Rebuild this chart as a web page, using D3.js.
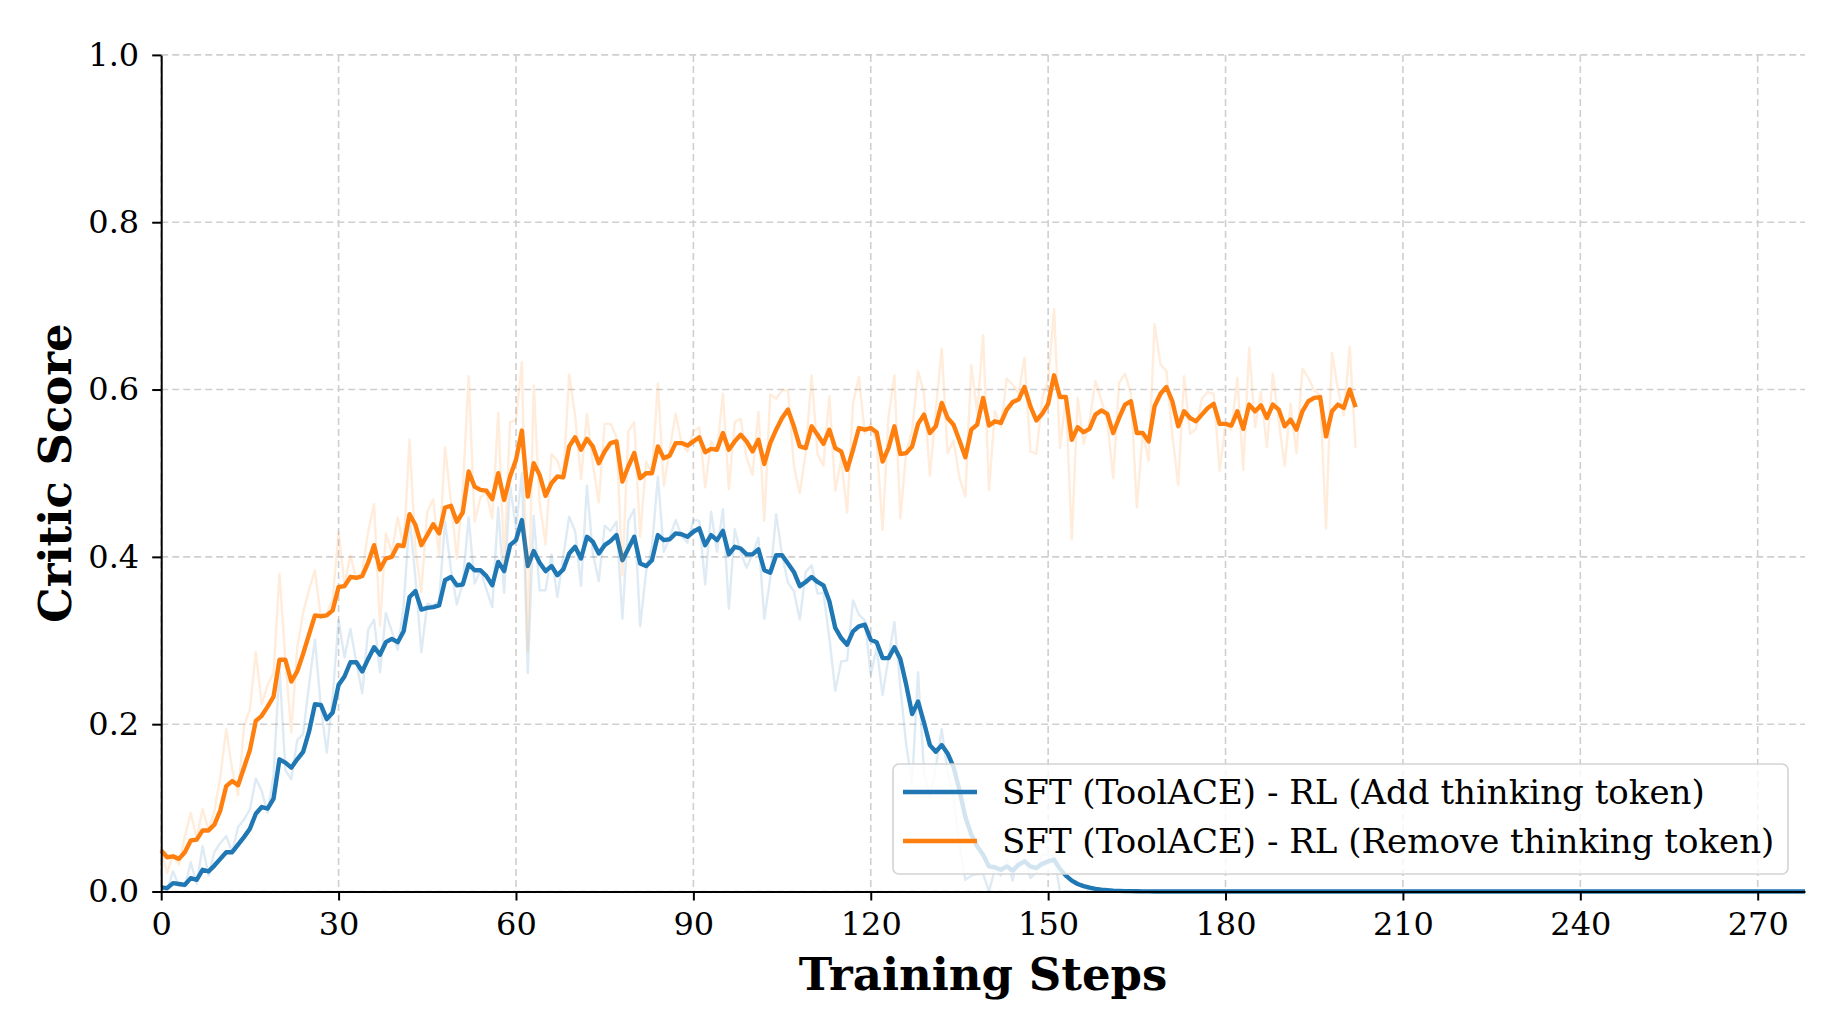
<!DOCTYPE html>
<html><head><meta charset="utf-8">
<script src="https://cdn.jsdelivr.net/npm/d3@7"></script>
<style>body{margin:0;background:#fff;} svg{display:block;}</style>
</head><body>
<svg id="chart" width="1832" height="1024"></svg>
<script>
// ---------- data ----------
const stepsMax = 278;
const xTickValues = [0, 30, 60, 90, 120, 150, 180, 210, 240, 270];
const yTickValues = [0.0, 0.2, 0.4, 0.6, 0.8, 1.0];
const seriesNames = ["SFT (ToolACE) - RL (Add thinking token)", "SFT (ToolACE) - RL (Remove thinking token)"];
const xLabel = "Training Steps";
const yLabel = "Critic Score";

// Add thinking token: raw per-step score
const addRaw = [
0.005,0.002,0.024,0.007,0.006,0.035,0.009,0.054,0.019,0.047,
0.058,0.066,0.047,0.077,0.086,0.098,0.135,0.120,0.094,0.139,
0.268,0.145,0.134,0.181,0.188,0.247,0.301,0.221,0.166,0.233,
0.324,0.280,0.314,0.274,0.237,0.313,0.325,0.262,0.333,0.311,
0.289,0.341,0.448,0.375,0.286,0.344,0.342,0.347,0.442,0.385,
0.343,0.369,0.447,0.368,0.384,0.361,0.340,0.459,0.357,0.486,
0.434,0.500,0.261,0.449,0.360,0.360,0.403,0.352,0.401,0.448,
0.431,0.365,0.485,0.404,0.371,0.437,0.431,0.442,0.326,0.443,
0.457,0.317,0.382,0.412,0.496,0.406,0.423,0.444,0.425,0.417,
0.444,0.443,0.367,0.454,0.406,0.457,0.338,0.433,0.405,0.387,
0.403,0.423,0.326,0.374,0.451,0.402,0.369,0.359,0.325,0.382,
0.390,0.356,0.357,0.303,0.240,0.275,0.276,0.348,0.331,0.324,
0.259,0.291,0.235,0.279,0.322,0.245,0.175,0.130,0.262,0.144,
0.112,0.148,0.194,0.142,0.112,0.056,0.014,0.019,0.021,0.021,
0.000,0.027,0.019,0.039,0.013,0.048,0.045,0.016,0.023,0.045,
0.043,0.043,
0,0,0,0,0,0,0,0,0,0,
0,0,0,0,0,0,0,0,0,0,
0,0,0,0,0,0,0,0,0,0,
0,0,0,0,0,0,0,0,0,0,
0,0,0,0,0,0,0,0,0,0,
0,0,0,0,0,0,0,0,0,0,
0,0,0,0,0,0,0,0,0,0,
0,0,0,0,0,0,0,0,0,0,
0,0,0,0,0,0,0,0,0,0,
0,0,0,0,0,0,0,0,0,0,
0,0,0,0,0,0,0,0,0,0,
0,0,0,0,0,0,0,0,0,0,
0,0,0,0,0,0,0
];
// Add thinking token: smoothed curve
const addSmooth = [
0.005,0.004,0.010,0.009,0.008,0.016,0.014,0.026,0.024,0.031,
0.039,0.047,0.047,0.056,0.065,0.075,0.093,0.101,0.099,0.111,
0.158,0.154,0.148,0.158,0.167,0.191,0.224,0.223,0.206,0.214,
0.247,0.257,0.274,0.274,0.263,0.278,0.292,0.283,0.298,0.302,
0.298,0.311,0.352,0.359,0.337,0.339,0.340,0.342,0.372,0.376,
0.366,0.367,0.391,0.384,0.384,0.377,0.366,0.394,0.383,0.414,
0.420,0.444,0.389,0.407,0.393,0.383,0.389,0.378,0.385,0.404,
0.412,0.398,0.424,0.418,0.404,0.414,0.419,0.426,0.396,0.410,
0.424,0.392,0.389,0.396,0.426,0.420,0.421,0.428,0.427,0.424,
0.430,0.434,0.414,0.426,0.420,0.431,0.403,0.412,0.410,0.403,
0.403,0.409,0.384,0.381,0.402,0.402,0.392,0.382,0.365,0.370,
0.376,0.370,0.366,0.347,0.315,0.303,0.295,0.311,0.317,0.319,
0.301,0.298,0.279,0.279,0.292,0.278,0.247,0.212,0.227,0.202,
0.175,0.167,0.175,0.165,0.149,0.121,0.089,0.068,0.054,0.044,
0.030,0.029,0.026,0.030,0.025,0.032,0.036,0.030,0.028,0.033,
0.036,0.038,0.027,0.019,0.013,0.009,0.0065,0.0046,0.0032,0.0022,
0.0016,0.0011,0.0008,0.0005,0.0004,0.0003,0.0002,0.0001,
0,0,0,0,0,0,0,0,0,0,
0,0,0,0,0,0,0,0,0,0,
0,0,0,0,0,0,0,0,0,0,
0,0,0,0,0,0,0,0,0,0,
0,0,0,0,0,0,0,0,0,0,
0,0,0,0,0,0,0,0,0,0,
0,0,0,0,0,0,0,0,0,0,
0,0,0,0,0,0,0,0,0,0,
0,0,0,0,0,0,0,0,0,0,
0,0,0,0,0,0,0,0,0,0,
0,0,0,0,0,0,0,0,0,0,
0
];
// Remove thinking token: raw per-step score
const removeRaw = [
0.049,0.022,0.044,0.032,0.066,0.094,0.064,0.099,0.073,0.096,
0.137,0.194,0.146,0.115,0.197,0.218,0.286,0.224,0.247,0.261,
0.380,0.277,0.190,0.291,0.333,0.361,0.384,0.327,0.332,0.350,
0.429,0.367,0.402,0.373,0.382,0.430,0.463,0.317,0.428,0.405,
0.447,0.411,0.540,0.408,0.358,0.454,0.469,0.402,0.531,0.466,
0.398,0.479,0.616,0.442,0.471,0.477,0.446,0.572,0.393,0.561,
0.563,0.633,0.288,0.605,0.465,0.415,0.523,0.515,0.493,0.618,
0.569,0.493,0.571,0.511,0.465,0.559,0.559,0.543,0.378,0.550,
0.561,0.424,0.514,0.500,0.607,0.485,0.528,0.571,0.536,0.526,
0.550,0.555,0.483,0.538,0.526,0.595,0.481,0.561,0.565,0.519,
0.498,0.573,0.443,0.594,0.589,0.599,0.599,0.509,0.476,0.525,
0.617,0.523,0.509,0.592,0.479,0.517,0.453,0.584,0.615,0.547,
0.559,0.537,0.432,0.567,0.617,0.446,0.526,0.551,0.622,0.596,
0.497,0.575,0.649,0.524,0.539,0.495,0.472,0.629,0.572,0.665,
0.480,0.574,0.555,0.613,0.606,0.595,0.638,0.526,0.523,0.590,
0.611,0.696,0.530,0.591,0.421,0.590,0.535,0.562,0.610,0.587,
0.562,0.494,0.608,0.619,0.595,0.459,0.548,0.515,0.678,0.630,
0.622,0.546,0.486,0.616,0.547,0.553,0.589,0.597,0.595,0.503,
0.559,0.552,0.614,0.504,0.650,0.555,0.597,0.531,0.619,0.562,
0.509,0.583,0.524,0.625,0.614,0.599,0.593,0.434,0.644,0.601,
0.569,0.651,0.530
];
// Remove thinking token: smoothed curve
const removeSmooth = [
0.049,0.041,0.042,0.039,0.047,0.061,0.062,0.073,0.073,0.080,
0.097,0.126,0.132,0.127,0.148,0.169,0.204,0.210,0.221,0.233,
0.277,0.277,0.251,0.263,0.284,0.307,0.330,0.329,0.330,0.336,
0.364,0.365,0.376,0.375,0.377,0.393,0.414,0.385,0.398,0.400,
0.414,0.413,0.451,0.438,0.414,0.426,0.439,0.428,0.459,0.461,
0.442,0.453,0.502,0.484,0.480,0.479,0.469,0.500,0.468,0.496,
0.516,0.551,0.472,0.512,0.498,0.473,0.488,0.496,0.495,0.532,
0.543,0.528,0.541,0.532,0.512,0.526,0.536,0.538,0.490,0.508,
0.524,0.494,0.500,0.500,0.532,0.518,0.521,0.536,0.536,0.533,
0.538,0.543,0.525,0.529,0.528,0.548,0.528,0.538,0.546,0.538,
0.526,0.540,0.511,0.536,0.552,0.566,0.576,0.556,0.532,0.530,
0.556,0.546,0.535,0.552,0.530,0.526,0.504,0.528,0.554,0.552,
0.554,0.549,0.514,0.530,0.556,0.523,0.524,0.532,0.559,0.570,
0.548,0.556,0.584,0.566,0.558,0.539,0.519,0.552,0.558,0.590,
0.557,0.562,0.560,0.576,0.585,0.588,0.603,0.580,0.563,0.571,
0.583,0.617,0.591,0.591,0.540,0.555,0.549,0.553,0.570,0.575,
0.571,0.548,0.566,0.582,0.586,0.548,0.548,0.538,0.580,0.595,
0.603,0.586,0.556,0.574,0.566,0.562,0.570,0.578,0.583,0.559,
0.559,0.557,0.574,0.553,0.582,0.574,0.581,0.566,0.582,0.576,
0.556,0.564,0.552,0.574,0.586,0.590,0.591,0.544,0.574,0.582,
0.578,0.600,0.579
];
const colors = ["#1f77b4", "#ff7f0e"];

// ---------- drawing ----------
const svg = d3.select("#chart");
const plot = {left: 161.2, right: 1805, top: 54.9, bottom: 891.5};
const x = d3.scaleLinear().domain([0, stepsMax]).range([plot.left, plot.right]);
const y = d3.scaleLinear().domain([0, 1]).range([plot.bottom, plot.top]);
const FONT = "'DejaVu Serif', serif";

svg.append("rect").attr("width", 1832).attr("height", 1024).attr("fill", "#fff");

// grid
const grid = svg.append("g");
grid.selectAll("line.gx").data(xTickValues).join("line")
  .attr("x1", d => x(d)).attr("x2", d => x(d))
  .attr("y1", plot.top).attr("y2", plot.bottom)
  .attr("stroke", "#cfcfcf").attr("stroke-width", 1.6).attr("stroke-dasharray", "7,4");
grid.selectAll("line.gy").data(yTickValues).join("line")
  .attr("y1", d => y(d)).attr("y2", d => y(d))
  .attr("x1", plot.left).attr("x2", plot.right)
  .attr("stroke", "#cfcfcf").attr("stroke-width", 1.6).attr("stroke-dasharray", "7,4");

// lines
const line = d3.line().x((d, i) => x(i)).y(d => y(d));
const series = [
  {raw: addRaw, smooth: addSmooth, color: colors[0]},
  {raw: removeRaw, smooth: removeSmooth, color: colors[1]}
];
const lines = svg.append("g");
series.forEach(s => {
  lines.append("path").datum(s.raw).attr("d", line)
    .attr("fill", "none").attr("stroke", s.color).attr("stroke-opacity", 0.15)
    .attr("stroke-width", 2.4).attr("stroke-linejoin", "round");
  lines.append("path").datum(s.smooth).attr("d", line)
    .attr("fill", "none").attr("stroke", s.color)
    .attr("stroke-width", 4.4).attr("stroke-linejoin", "round").attr("stroke-linecap", "butt");
});

// axes
const xAxis = d3.axisBottom(x).tickValues(xTickValues).tickFormat(d3.format("d"))
  .tickSizeInner(9).tickSizeOuter(0).tickPadding(12);
const yAxis = d3.axisLeft(y).tickValues(yTickValues).tickFormat(d3.format(".1f"))
  .tickSizeInner(9).tickSizeOuter(0).tickPadding(13);
const gx = svg.append("g").attr("transform", `translate(0,${plot.bottom})`).call(xAxis);
const gy = svg.append("g").attr("transform", `translate(${plot.left},0)`).call(yAxis);
[gx, gy].forEach(g => {
  g.select(".domain").attr("stroke", "#000").attr("stroke-width", 2);
  g.selectAll(".tick line").attr("stroke", "#000").attr("stroke-width", 2);
  g.selectAll(".tick text").attr("font-family", FONT).attr("font-size", 32).attr("fill", "#000");
});

// axis labels
svg.append("text").attr("x", (plot.left + plot.right) / 2).attr("y", 990)
  .attr("text-anchor", "middle").attr("font-family", FONT).attr("font-weight", "bold")
  .attr("font-size", 45).text(xLabel);
svg.append("text").attr("transform", `translate(71,${(plot.top + plot.bottom) / 2}) rotate(-90)`)
  .attr("text-anchor", "middle").attr("font-family", FONT).attr("font-weight", "bold")
  .attr("font-size", 45).text(yLabel);

// legend
const lg = svg.append("g");
lg.append("rect").attr("x", 893).attr("y", 764).attr("width", 895).attr("height", 110)
  .attr("rx", 6).attr("fill", "#fff").attr("fill-opacity", 0.8)
  .attr("stroke", "#d3d3d3").attr("stroke-width", 1.6);
seriesNames.forEach((name, i) => {
  const cy = 792 + i * 49;
  lg.append("line").attr("x1", 903).attr("x2", 977).attr("y1", cy).attr("y2", cy)
    .attr("stroke", colors[i]).attr("stroke-width", 4.4);
  lg.append("text").attr("x", 1002).attr("y", cy).attr("dy", "0.35em")
    .attr("font-family", FONT).attr("font-size", 34).attr("fill", "#000").text(name);
});
</script>
</body></html>
